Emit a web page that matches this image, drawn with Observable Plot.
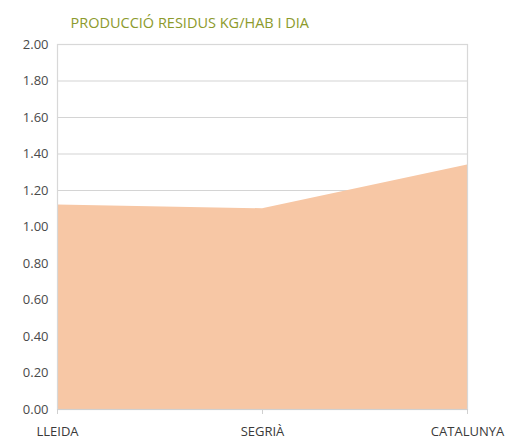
<!DOCTYPE html>
<html>
<head>
<meta charset="utf-8">
<script src="https://cdn.jsdelivr.net/npm/d3@7"></script>
<script src="https://cdn.jsdelivr.net/npm/@observablehq/plot@0.6"></script>
<style>
  body { margin: 0; background: #fff; }
</style>
</head>
<body>
<div id="chart"></div>
<script>
const title = "PRODUCCIÓ RESIDUS KG/HAB I DIA";
const categories = ["LLEIDA", "SEGRIÀ", "CATALUNYA"];
const values = [1.12, 1.10, 1.34];
const yTicks = [0, 0.2, 0.4, 0.6, 0.8, 1.0, 1.2, 1.4, 1.6, 1.8, 2.0];

const data = categories.map((c, i) => ({cat: c, val: values[i]}));

const chart = Plot.plot({
  width: 514,
  height: 441,
  marginTop: 44,
  marginBottom: 32,
  marginLeft: 57,
  marginRight: 47,
  style: {fontFamily: "'Open Sans', sans-serif", fontSize: "13px", color: "#444", background: "#fff"},
  x: {type: "point", domain: categories, padding: 0, label: null},
  y: {domain: [0, 2], label: null},
  marks: [
    Plot.gridY(yTicks, {stroke: "#d4d4d4", strokeOpacity: 1, strokeWidth: 1.2}),
    Plot.areaY(data, {x: "cat", y: "val", fill: "#f7c7a5"}),
    Plot.frame({stroke: "#d8d8d8", strokeWidth: 1.2}),
    Plot.ruleY([0], {stroke: "#d0d0d0", strokeWidth: 1.2}),
    Plot.axisY(yTicks, {tickFormat: d3.format(".2f"), tickSize: 0, tickPadding: 9, fontSize: 13, fill: "#4a4a4a"}),
    Plot.axisX({tickSize: 5, tickPadding: 12, stroke: "#d0d0d0", fontSize: 13, fill: "#3a3a3a"}),
    Plot.text([title], {frameAnchor: "top-left", dx: 13, dy: -27, text: d => d, fill: "#8c9a2c", fontSize: 14.5, textAnchor: "start", fontFamily: "'Open Sans', sans-serif", letterSpacing: "-0.2px"})
  ]
});
document.getElementById("chart").append(chart);
</script>
</body>
</html>
